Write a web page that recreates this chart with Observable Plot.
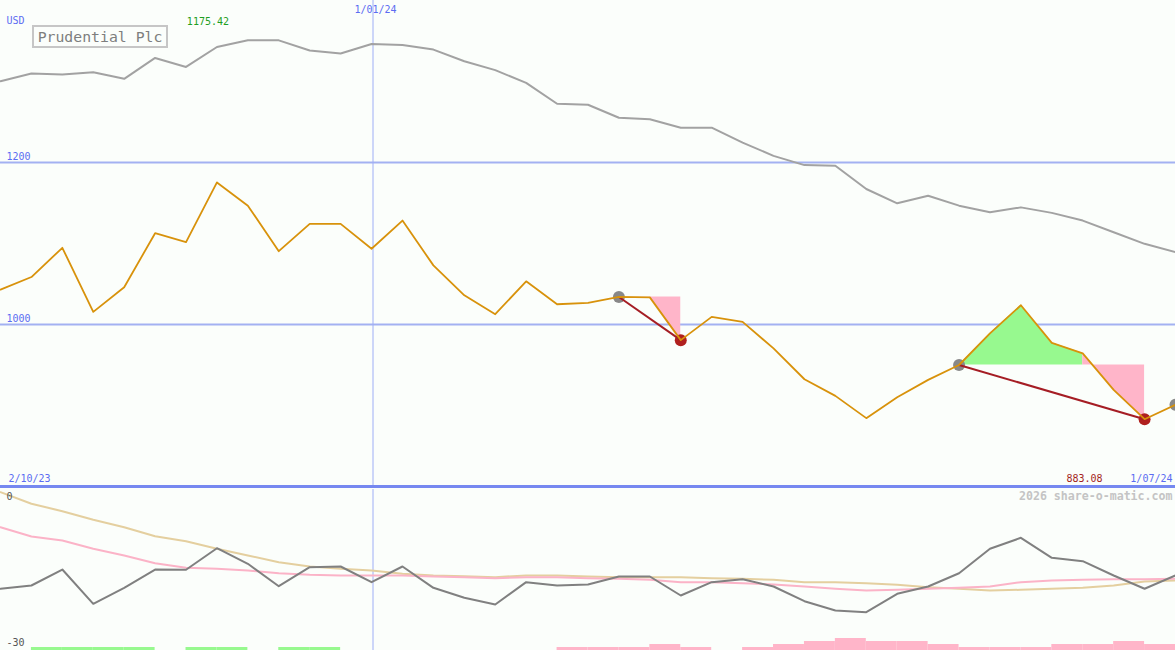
<!DOCTYPE html>
<html><head><meta charset="utf-8">
<script src="https://cdn.jsdelivr.net/npm/d3@7"></script>
<script src="https://cdn.jsdelivr.net/npm/@observablehq/plot@0.6"></script>
<style>
html,body{margin:0;padding:0;background:#fbfefb;}
#chart{position:relative;width:1175px;height:650px;overflow:hidden;background:#fbfefb;font-family:"DejaVu Sans Mono",monospace;}
#chart svg{position:absolute;left:0;}
#title{position:absolute;left:32px;top:25px;width:132px;height:19px;border:2px solid #c6c6c6;color:#7e7e7e;font-size:14.8px;line-height:19px;text-align:center;font-family:"DejaVu Sans Mono",monospace;z-index:2;}
</style></head><body><div id="chart"><div id="title">Prudential Plc</div></div>
<script>
// ---- data ----
const titleText = "Prudential Plc";
const currency = "USD";
const price = [1043,1058.6,1094.7,1015.6,1046,1112.7,1101.6,1175.42,1146.7,1090.5,1124.2,1124.2,1093.5,1128.3,1073,1036,1012.7,1053.3,1025,1026.6,1034,1033.5,980.7,1009.4,1003.3,970.5,932.4,911.9,884.4,910.2,931.6,950,989,1023.8,977.4,964.4,919.3,883.08,900.8];
const benchmark = [1300.4,1309.9,1308.6,1311.5,1303.3,1329.1,1318,1342.6,1350.8,1350.8,1338.2,1334.5,1346.3,1345,1339.4,1325,1314,1298.3,1272.5,1271.3,1255.3,1253.3,1243,1243,1224.6,1208.2,1196.8,1195.9,1167.3,1149.6,1159,1146.7,1138.5,1144.6,1137.8,1128.3,1113.9,1099.6,1089.3];
const oscillator = [-18.5,-17.89,-14.91,-21.3,-18.32,-14.91,-14.96,-10.94,-13.84,-18.02,-14.48,-14.35,-17.27,-14.35,-18.32,-20.18,-21.43,-17.27,-17.89,-17.7,-16.21,-16.21,-19.75,-17.27,-16.71,-18.07,-20.81,-22.55,-22.86,-19.43,-18.07,-15.6,-11.05,-9.0,-12.73,-13.36,-16.02,-18.5,-16.02];
const slowAvg = [-0.5,-2.66,-4.04,-5.65,-7.02,-8.7,-9.63,-11.05,-12.3,-13.55,-14.35,-14.78,-15.09,-15.71,-16.02,-16.15,-16.34,-16.02,-16.02,-16.21,-16.34,-16.34,-16.34,-16.53,-16.64,-16.83,-17.27,-17.27,-17.46,-17.76,-18.2,-18.5,-18.82,-18.69,-18.5,-18.32,-17.89,-17.14,-16.96];
const fastAvg = [-7.02,-8.76,-9.5,-11.05,-12.3,-13.73,-14.59,-14.78,-15.09,-15.6,-15.89,-16.02,-16.02,-16.02,-16.21,-16.34,-16.53,-16.34,-16.34,-16.53,-16.64,-16.83,-17.27,-17.27,-17.46,-17.7,-18.07,-18.5,-18.82,-18.69,-18.5,-18.32,-18.07,-17.27,-16.96,-16.83,-16.71,-16.71,-16.64];
const barLevel = [0,1,1,1,1,0,1,1,0,1,1,0,0,0,0,0,0,0,-1,-1,-1,-2,-1,0,-1,-2,-3,-4,-3,-3,-2,-1,-1,-1,-2,-2,-3,-2];
const gridValues = [1000, 1200];
const dateLabels = ["2/10/23", "1/01/24", "1/07/24"];
const dateIndex = [0, 12, 38];
const signalFrom = [20, 31];
const signalTo = [22, 37];
const lastSignal = [38];
const segStart = [20, 31, 35];
const segEnd = [22, 35, 37];
const segLevel = [20, 31, 31];
const segKind = ["loss", "gain", "loss"];
const watermark = "2026 share-o-matic.com";
const oscLabels = [0, -30];

// ---- derived tables ----
const n = price.length;
const rows = price.map((p, i) => ({i, p, b: benchmark[i], o: oscillator[i], s: slowAvg[i], f: fastAvg[i]}));
const areaRows = [];
segStart.forEach((s, k) => {
  for (let i = s; i <= segEnd[k]; i++) areaRows.push({i, lo: price[segLevel[k]], hi: price[i], seg: k, kind: segKind[k]});
});
const links = signalFrom.map((s, k) => ({x1: s, y1: price[s], x2: signalTo[k], y2: price[signalTo[k]]}));
const grayDots = signalFrom.concat(lastSignal).map(i => ({i, p: price[i]}));
const redDots = signalTo.map(i => ({i, p: price[i]}));
const maxI = d3.maxIndex(price), minI = d3.minIndex(price);
const bars = barLevel.map((v, i) => ({i, h: Math.abs(v), kind: v > 0 ? "gain" : "loss"})).filter(d => d.h > 0);

const W = 1175;
const blue = "#5b6cf2";
const vline = "#9eaef6";
const font = {fontFamily: "DejaVu Sans Mono, monospace", fontSize: "10px", background: "transparent", overflow: "visible"};
const xs = {domain: [0, n - 1], axis: null};
const colorScale = {domain: ["gain", "loss"], range: ["#97f98f", "#ffb5c9"]};

const pricePlot = Plot.plot({
  width: W, height: 488, marginTop: 0, marginBottom: 2, marginLeft: 0, marginRight: 0,
  x: xs, y: {domain: [800, 1400], axis: null}, color: colorScale, style: font,
  marks: [
    Plot.ruleY(gridValues, {stroke: "#a3b1f2", strokeWidth: 2}),
    Plot.ruleX([dateIndex[1]], {stroke: vline, strokeWidth: 1, dx: 1.45}),
    Plot.ruleY([800], {stroke: "#7688f0", strokeWidth: 3}),
    Plot.line(rows, {x: "i", y: "b", stroke: "#a2a2a2", strokeWidth: 2}),
    Plot.areaY(areaRows, {x: "i", y1: "lo", y2: "hi", z: "seg", fill: "kind"}),
    Plot.dot(grayDots, {x: "i", y: "p", r: 6, fill: "#888888"}),
    Plot.dot(redDots, {x: "i", y: "p", r: 6, fill: "#b0201e"}),
    Plot.link(links, {x1: "x1", y1: "y1", x2: "x2", y2: "y2", stroke: "#a51d24", strokeWidth: 2}),
    Plot.line(rows, {x: "i", y: "p", stroke: "#d8920b", strokeWidth: 1.8}),
    Plot.text(gridValues, {x: 0, y: d => d, text: d => String(d), textAnchor: "start", lineAnchor: "middle", dx: 6, dy: -6, fill: blue}),
    Plot.text([currency], {frameAnchor: "top-left", textAnchor: "start", lineAnchor: "middle", dx: 6, dy: 20.5, fill: blue}),
    Plot.text([dateIndex[1]], {x: d => d, y: 1400, text: () => dateLabels[1], textAnchor: "middle", lineAnchor: "middle", dx: 4, dy: 9, fill: blue}),
    Plot.text([dateIndex[0]], {x: d => d, y: 800, text: () => dateLabels[0], textAnchor: "start", lineAnchor: "middle", dx: 8, dy: -8, fill: blue}),
    Plot.text([dateIndex[2]], {x: d => d, y: 800, text: () => dateLabels[2], textAnchor: "end", lineAnchor: "middle", dx: -3, dy: -8, fill: blue}),
    Plot.text([maxI], {x: d => d, y: 1400, text: d => price[d].toFixed(2), textAnchor: "middle", lineAnchor: "middle", dx: -9, dy: 21, fill: "#1f9e1f"}),
    Plot.text([minI], {x: n - 1, y: 800, text: d => price[d].toFixed(2), textAnchor: "end", lineAnchor: "middle", dx: -73, dy: -8, fill: "#a31d22"})
  ]
});
pricePlot.style.top = "0px";

const oscPlot = Plot.plot({
  width: W, height: 162, marginTop: 1, marginBottom: 0, marginLeft: 0, marginRight: 0,
  x: xs, y: {domain: [-30, 0], axis: null}, style: font,
  marks: [
    Plot.ruleX([dateIndex[1]], {stroke: vline, strokeWidth: 1, dx: 1.45}),
    Plot.line(rows, {x: "i", y: "s", stroke: "#e4cf9f", strokeWidth: 2}),
    Plot.line(rows, {x: "i", y: "f", stroke: "#fbb3c7", strokeWidth: 2}),
    Plot.line(rows, {x: "i", y: "o", stroke: "#808080", strokeWidth: 2}),
    Plot.text([oscLabels[0]], {x: 0, y: d => d, text: d => String(d), textAnchor: "start", lineAnchor: "middle", dx: 6, dy: 7, fill: "#555555"}),
    Plot.text([oscLabels[1]], {x: 0, y: d => d, text: d => String(d), textAnchor: "start", lineAnchor: "middle", dx: 6, dy: -8, fill: "#555555"}),
    Plot.text([watermark], {frameAnchor: "top-right", textAnchor: "end", lineAnchor: "middle", dx: -3, dy: 7, fill: "#c4c4c4", fontSize: 11.6, fontWeight: "bold"})
  ]
});
oscPlot.style.top = "488px";

const barsPlot = Plot.plot({
  width: W, height: 12, margin: 0,
  x: xs, y: {domain: [0, 4], axis: null}, color: colorScale, style: font,
  marks: [
    Plot.rectY(bars, {x1: "i", x2: d => d.i + 1, y: "h", fill: "kind", inset: 0})
  ]
});
barsPlot.style.top = "638px";

const chart = document.getElementById("chart");
chart.appendChild(pricePlot);
chart.appendChild(oscPlot);
chart.appendChild(barsPlot);
</script>
</body></html>
